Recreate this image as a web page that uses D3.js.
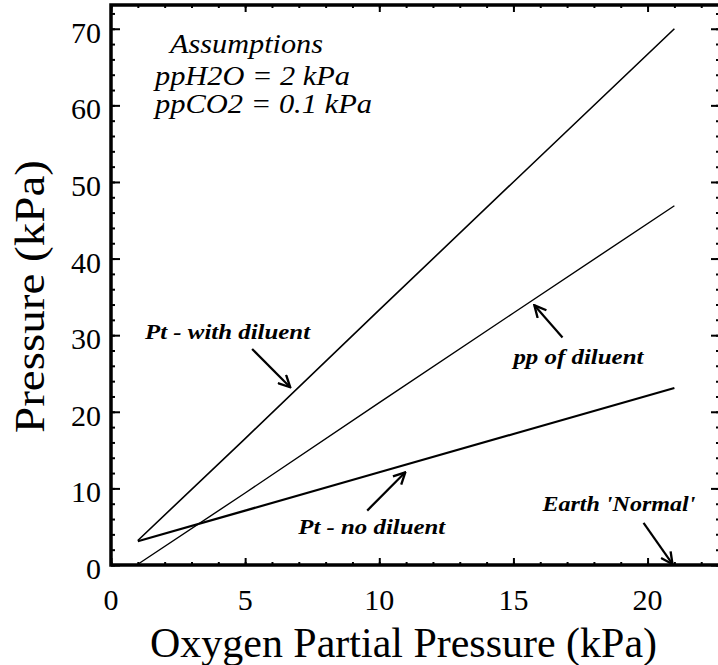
<!DOCTYPE html>
<html>
<head>
<meta charset="utf-8">
<script src="https://cdn.jsdelivr.net/npm/d3@7"></script>
<style>
  body { margin: 0; background: #fff; }
  svg { display: block; }
</style>
</head>
<body>
<svg id="chart"></svg>
<script>
// oxygen partial pressure (kPa) where the curves were read
const ppO2 = [1, 5, 10, 15, 21]
// total pressure with diluent gas
const ptWithDiluent = [3.2, 16.5, 33.3, 50.0, 70.0]
// total pressure, pure oxygen + H2O + CO2
const ptNoDiluent = [3.1, 7.1, 12.1, 17.1, 23.1]
// partial pressure of the diluent
const ppDiluent = [0.1, 9.4, 21.2, 32.9, 46.9]

const xTicks = [0, 5, 10, 15, 20]
const yTicks = [0, 10, 20, 30, 40, 50, 60, 70]

const assumptions = ["Assumptions", "ppH2O = 2 kPa", "ppCO2 = 0.1 kPa"]

// callouts: label anchor and arrow (from -> to), in data units
const callouts = [
  { text: "Pt - with diluent", x: 1.27, y: 29.5, from: [5.26, 28.2], to: [6.68, 23.2] },
  { text: "pp of diluent", x: 15.0, y: 26.2, from: [16.83, 29.7], to: [15.78, 33.9] },
  { text: "Pt - no diluent", x: 6.98, y: 4.1, from: [9.55, 7.1], to: [10.97, 12.1] },
  { text: "Earth 'Normal'", x: 16.08, y: 7.1, from: [19.85, 5.5], to: [20.93, 0.1] }
]

const width = 718
const height = 665
const mLeft = 111, mRight = 720, mTop = 5, mBottom = 565
const serif = "Liberation Serif"

//rendered text widths, to match the old typesetting
const calloutWidths = [165, 130, 147, 153]
const assumeWidths = [153, 195, 217]

const svg = d3.select("#chart")
              .attr("width", width)
              .attr("height", height)

const xScale = d3.scaleLinear()
                 .domain([0, 22.7])
                 .range([mLeft, mRight])

const yScale = d3.scaleLinear()
                 .domain([0, 73.1])
                 .range([mBottom, mTop])

const minorX = d3.range(0, 23, 1)
const minorY = d3.range(0, 74, 2)

//axes, ticks pointing into the plot
const drawAxis = (axis, tf, size) => {
  const g = svg.append("g").attr("transform", tf).call(axis)
  g.select(".domain").remove()
  g.selectAll("line").attr("stroke", "#000").attr("stroke-width", size)
  return g
}

drawAxis(d3.axisBottom(xScale).tickValues(minorX).tickSize(-3).tickFormat(""), `translate(0,${mBottom})`, 2)
drawAxis(d3.axisBottom(xScale).tickValues(xTicks).tickSize(-7).tickFormat(""), `translate(0,${mBottom})`, 2)
drawAxis(d3.axisTop(xScale).tickValues(minorX).tickSize(-3).tickFormat(""), `translate(0,${mTop})`, 2)
drawAxis(d3.axisTop(xScale).tickValues(xTicks).tickSize(-7).tickFormat(""), `translate(0,${mTop})`, 2)
drawAxis(d3.axisLeft(yScale).tickValues(minorY).tickSize(-4).tickFormat(""), `translate(${mLeft},0)`, 2)
drawAxis(d3.axisLeft(yScale).tickValues(yTicks).tickSize(-9).tickFormat(""), `translate(${mLeft},0)`, 2)
drawAxis(d3.axisRight(yScale).tickValues(minorY).tickSize(-4).tickFormat(""), `translate(${mRight},0)`, 2)
drawAxis(d3.axisRight(yScale).tickValues(yTicks).tickSize(-9).tickFormat(""), `translate(${mRight},0)`, 2)

//frame
svg.append("rect")
   .attr("x", mLeft).attr("y", mTop)
   .attr("width", mRight - mLeft).attr("height", mBottom - mTop)
   .attr("fill", "none").attr("stroke", "#000").attr("stroke-width", 3.5)

//tick labels
svg.selectAll(".xlab")
   .data(xTicks)
   .join("text")
   .attr("x", d => xScale(d))
   .attr("y", 610)
   .attr("text-anchor", "middle")
   .attr("font-family", serif)
   .attr("font-size", 30)
   .text(d => d)

svg.selectAll(".ylab")
   .data(yTicks)
   .join("text")
   .attr("x", 101)
   .attr("y", d => yScale(d) + 14)
   .attr("text-anchor", "end")
   .attr("font-family", serif)
   .attr("font-size", 30)
   .text(d => d)

//axis titles
svg.append("text")
   .attr("x", 150)
   .attr("y", 657)
   .attr("font-family", serif)
   .attr("font-size", 42)
   .attr("textLength", 507)
   .attr("lengthAdjust", "spacingAndGlyphs")
   .text("Oxygen Partial Pressure (kPa)")

svg.append("text")
   .attr("transform", "translate(44, 433) rotate(-90)")
   .attr("font-family", serif)
   .attr("font-size", 42)
   .attr("textLength", 273)
   .attr("lengthAdjust", "spacingAndGlyphs")
   .text("Pressure (kPa)")

//the three curves
const line = d3.line()
               .x((d, i) => xScale(ppO2[i]))
               .y(d => yScale(d))

const series = [
  { values: ptWithDiluent, w: 1.6 },
  { values: ppDiluent, w: 1.4 },
  { values: ptNoDiluent, w: 2.2 }
]

svg.selectAll(".curve")
   .data(series)
   .join("path")
   .attr("d", d => line(d.values))
   .attr("fill", "none")
   .attr("stroke", "#000")
   .attr("stroke-width", d => d.w)

//assumptions text
svg.selectAll(".assume")
   .data(assumptions)
   .join("text")
   .attr("x", (d, i) => i === 0 ? 170 : 155)
   .attr("y", (d, i) => [53, 85, 113][i])
   .attr("font-family", serif)
   .attr("font-size", 28)
   .attr("font-style", "italic")
   .attr("textLength", (d, i) => assumeWidths[i])
   .attr("lengthAdjust", "spacingAndGlyphs")
   .text(d => d)

//callouts with open arrowheads
svg.append("defs").append("marker")
   .attr("id", "arrow")
   .attr("viewBox", "0 0 12 12")
   .attr("refX", 11).attr("refY", 6)
   .attr("markerWidth", 14).attr("markerHeight", 14)
   .attr("markerUnits", "userSpaceOnUse")
   .attr("orient", "auto")
   .append("path")
   .attr("d", "M1,1 L11,6 L1,11")
   .attr("fill", "none")
   .attr("stroke", "#000")
   .attr("stroke-width", 2)

svg.selectAll(".callout-line")
   .data(callouts)
   .join("line")
   .attr("x1", d => xScale(d.from[0]))
   .attr("y1", d => yScale(d.from[1]))
   .attr("x2", d => xScale(d.to[0]))
   .attr("y2", d => yScale(d.to[1]))
   .attr("stroke", "#000")
   .attr("stroke-width", 2.2)
   .attr("marker-end", "url(#arrow)")

svg.selectAll(".callout-text")
   .data(callouts)
   .join("text")
   .attr("x", d => xScale(d.x))
   .attr("y", d => yScale(d.y))
   .attr("font-family", serif)
   .attr("font-size", 22)
   .attr("font-style", "italic")
   .attr("font-weight", "bold")
   .attr("textLength", (d, i) => calloutWidths[i])
   .attr("lengthAdjust", "spacingAndGlyphs")
   .text(d => d.text)
</script>
</body>
</html>
